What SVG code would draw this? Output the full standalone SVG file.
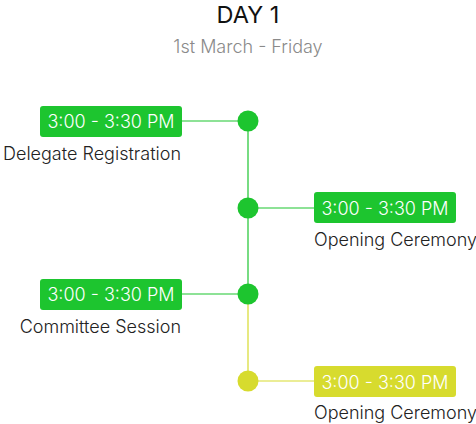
<svg xmlns="http://www.w3.org/2000/svg" width="476" height="424" viewBox="0 0 476 424">
<style>
text{font-family:Inter,"Noto Sans",sans-serif}
.title{font-size:23.5px;fill:#111;text-anchor:middle}
.sub{font-size:18px;fill:#8a8a8a;text-anchor:middle;font-weight:300}
.time{font-size:18px;fill:#fff;text-anchor:middle;font-weight:300}
.lbl{font-size:18px;fill:#222;font-weight:300}
.g{fill:#1dc52f}
.y{fill:#d7db2e}
.gl{stroke:#1dc52f;stroke-width:1.2;fill:none}
.yl{stroke:#d7db2e;stroke-width:1.2;fill:none}
</style>
<rect width="476" height="424" fill="#fff"/>
<text class="title" x="248" y="23">DAY 1</text>
<text class="sub" x="248" y="53">1st March - Friday</text>
<g id="connectors">
<line class="gl" x1="248" y1="121" x2="248" y2="294"/>
<line class="yl" x1="248" y1="294" x2="248" y2="381"/>
<line class="gl" x1="182" y1="121" x2="248" y2="121"/>
<line class="gl" x1="248" y1="208" x2="314" y2="208"/>
<line class="gl" x1="182" y1="294" x2="248" y2="294"/>
<line class="yl" x1="248" y1="381" x2="314" y2="381"/>
</g>
<g id="node1">
<circle class="g" cx="248" cy="121" r="10.5"/>
<rect class="g" x="40" y="106" width="142" height="31" rx="3"/>
<text class="time" x="111" y="128">3:00 - 3:30 PM</text>
<text class="lbl" x="181" y="160" text-anchor="end">Delegate Registration</text>
</g>
<g id="node2">
<circle class="g" cx="248" cy="208" r="10.5"/>
<rect class="g" x="314" y="192" width="142" height="31" rx="3"/>
<text class="time" x="385" y="214.5">3:00 - 3:30 PM</text>
<text class="lbl" x="314" y="246">Opening Ceremony</text>
</g>
<g id="node3">
<circle class="g" cx="248" cy="294" r="10.5"/>
<rect class="g" x="40" y="279" width="142" height="31" rx="3"/>
<text class="time" x="111" y="301">3:00 - 3:30 PM</text>
<text class="lbl" x="181" y="333" text-anchor="end">Committee Session</text>
</g>
<g id="node4">
<circle class="y" cx="248" cy="381" r="10.5"/>
<rect class="y" x="314" y="366" width="142" height="31" rx="3"/>
<text class="time" x="385" y="388.5">3:00 - 3:30 PM</text>
<text class="lbl" x="314" y="419">Opening Ceremony</text>
</g>
</svg>
